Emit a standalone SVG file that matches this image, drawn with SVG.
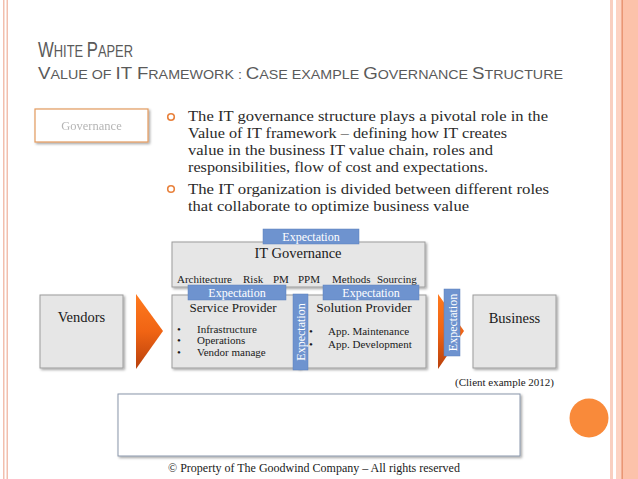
<svg xmlns="http://www.w3.org/2000/svg" width="638" height="479" viewBox="0 0 638 479">
<defs>
<style>
.title{font-family:"Liberation Sans",Arial,sans-serif;fill:#5a5a5a}
.body{font-family:"Liberation Serif","Times New Roman",serif;fill:#2a2a2a;font-size:14.5px}
.dg{font-family:"Liberation Serif","Times New Roman",serif;fill:#1a1a1a}
.box{fill:#e6e6e6;stroke:#9c9c9c;stroke-width:1}
.lbl{fill:#6e93cf;stroke:#5b80bd;stroke-width:0.5}
.lbltxt{font-family:"Liberation Serif","Times New Roman",serif;fill:#ffffff;font-size:12px}
.bullet{fill:none;stroke:#e8813c;stroke-width:1.6}
</style>
<filter id="sh" x="-10%" y="-10%" width="125%" height="130%">
<feDropShadow dx="1.5" dy="1.5" stdDeviation="1.2" flood-color="#000" flood-opacity="0.35"/>
</filter>
<filter id="blur"><feGaussianBlur stdDeviation="0.6"/></filter>
<linearGradient id="arr" x1="0" y1="0" x2="0" y2="1">
<stop offset="0" stop-color="#ff7a1e"/>
<stop offset="0.5" stop-color="#f06414"/>
<stop offset="1" stop-color="#b8400c"/>
</linearGradient>
</defs>
<rect width="638" height="479" fill="#ffffff"/>
<!-- slide borders -->
<g id="borders">
<rect x="3" y="0" width="1.5" height="479" fill="#f2bfae"/>
<rect x="6.5" y="0" width="1.5" height="479" fill="#f2bfae"/>
<rect x="610" y="0" width="3" height="479" fill="#f9cfc0"/>
<rect x="616" y="0" width="22" height="479" fill="#fdd3c3"/>
<rect x="622" y="0" width="16" height="479" fill="#fcc2aa"/>
<rect x="621.5" y="0" width="1.3" height="479" fill="#e58c68"/>
</g>
<!-- title -->
<g id="title">
<text class="title" transform="translate(38,57) scale(0.76,1)" x="0" y="0"><tspan font-size="22">W</tspan><tspan font-size="17">HITE </tspan><tspan font-size="22">P</tspan><tspan font-size="17">APER</tspan></text>
<text class="title" x="38" y="79" textLength="525" lengthAdjust="spacingAndGlyphs"><tspan font-size="17">V</tspan><tspan font-size="13">ALUE OF </tspan><tspan font-size="17">IT F</tspan><tspan font-size="13">RAMEWORK : </tspan><tspan font-size="17">C</tspan><tspan font-size="13">ASE EXAMPLE </tspan><tspan font-size="17">G</tspan><tspan font-size="13">OVERNANCE </tspan><tspan font-size="17">S</tspan><tspan font-size="13">TRUCTURE</tspan></text>
</g>
<!-- governance tag -->
<g id="governance-tag">
<rect x="35" y="109" width="113" height="33" fill="#ffffff" stroke="#e39a5e" stroke-width="1.2" filter="url(#sh)"/>
<text x="91.5" y="130" text-anchor="middle" font-family="Liberation Serif, serif" font-size="12.5" fill="#b5b5b5" filter="url(#blur)">Governance</text>
</g>
<!-- bullets -->
<g id="bullets">
<circle class="bullet" cx="171" cy="117" r="3.3"/>
<circle class="bullet" cx="171" cy="189" r="3.3"/>
<text class="body" x="188" y="121" textLength="360" lengthAdjust="spacingAndGlyphs">The IT governance structure plays a pivotal role in the</text>
<text class="body" x="188" y="138" textLength="319" lengthAdjust="spacingAndGlyphs">Value of IT framework – defining how IT creates</text>
<text class="body" x="188" y="155" textLength="305" lengthAdjust="spacingAndGlyphs">value in the business IT value chain, roles and</text>
<text class="body" x="188" y="172" textLength="300" lengthAdjust="spacingAndGlyphs">responsibilities, flow of cost and expectations.</text>
<text class="body" x="188" y="194" textLength="361" lengthAdjust="spacingAndGlyphs">The IT organization is divided between different roles</text>
<text class="body" x="188" y="211" textLength="281" lengthAdjust="spacingAndGlyphs">that collaborate to optimize business value</text>
</g>
<!-- IT Governance -->
<g id="it-governance">
<rect class="box" x="172" y="242" width="253" height="45" filter="url(#sh)"/>
<text class="dg" x="298" y="258" text-anchor="middle" font-size="14.5">IT Governance</text>
<g class="dg" font-size="11">
<text x="177" y="283">Architecture</text>
<text x="243" y="283">Risk</text>
<text x="273" y="283">PM</text>
<text x="298" y="283">PPM</text>
<text x="332" y="283">Methods</text>
<text x="377" y="283">Sourcing</text>
</g>
</g>
<!-- Vendors -->
<g id="vendors">
<rect class="box" x="40" y="295" width="83" height="73" filter="url(#sh)"/>
<text class="dg" x="81.5" y="322" text-anchor="middle" font-size="14.5">Vendors</text>
</g>
<!-- Service Provider -->
<g id="service-provider">
<rect class="box" x="172" y="295" width="128" height="73" filter="url(#sh)"/>
<text class="dg" x="233" y="311.5" text-anchor="middle" font-size="13">Service Provider</text>
<g class="dg" font-size="11">
<text x="177" y="333">•</text><text x="197" y="333">Infrastructure</text>
<text x="177" y="344">•</text><text x="197" y="344">Operations</text>
<text x="177" y="356">•</text><text x="197" y="356">Vendor manage</text>
</g>
</g>
<!-- Solution Provider -->
<g id="solution-provider">
<rect class="box" x="298" y="295" width="128" height="73" filter="url(#sh)"/>
<text class="dg" x="364" y="312" text-anchor="middle" font-size="13.5">Solution Provider</text>
<g class="dg" font-size="11">
<text x="309" y="335">•</text><text x="328" y="335">App. Maintenance</text>
<text x="309" y="348">•</text><text x="328" y="348">App. Development</text>
</g>
</g>
<!-- Business -->
<g id="business">
<rect class="box" x="473" y="295" width="83" height="73" filter="url(#sh)"/>
<text class="dg" x="514.5" y="323" text-anchor="middle" font-size="14.5">Business</text>
</g>
<!-- connectors -->
<g id="connectors">
<polygon points="136,294 163,331 136,369" fill="url(#arr)"/>
<polygon points="438,294 464,331 438,369" fill="url(#arr)"/>
</g>
<!-- expectation labels -->
<g id="expectation-top">
<rect class="lbl" x="263" y="229" width="96" height="15"/>
<text class="lbltxt" x="311" y="241" text-anchor="middle">Expectation</text>
</g>
<g id="expectation-sp">
<rect class="lbl" x="188" y="285" width="98" height="15"/>
<text class="lbltxt" x="237" y="296.5" text-anchor="middle">Expectation</text>
</g>
<g id="expectation-sol">
<rect class="lbl" x="323" y="285" width="96" height="15"/>
<text class="lbltxt" x="371" y="296.5" text-anchor="middle">Expectation</text>
</g>
<g id="expectation-mid">
<rect class="lbl" x="293" y="294" width="15" height="76"/>
<text class="lbltxt" transform="translate(304.5,332) rotate(-90)" text-anchor="middle">Expectation</text>
</g>
<g id="expectation-right">
<rect class="lbl" x="444" y="289" width="16" height="67"/>
<text class="lbltxt" transform="translate(456.5,322.5) rotate(-90)" text-anchor="middle">Expectation</text>
</g>
<!-- client example -->
<text class="dg" x="554" y="386" text-anchor="end" font-size="11">(Client example 2012)</text>
<!-- empty box -->
<g id="empty-box">
<rect x="118" y="394" width="402" height="62" fill="#ffffff" stroke="#8a96aa" stroke-width="1" filter="url(#sh)"/>
</g>
<!-- footer -->
<text class="dg" x="314" y="472" text-anchor="middle" font-size="12">© Property of The Goodwind Company – All rights reserved</text>
<circle cx="589" cy="418" r="19.5" fill="#f98a3a"/>
</svg>
